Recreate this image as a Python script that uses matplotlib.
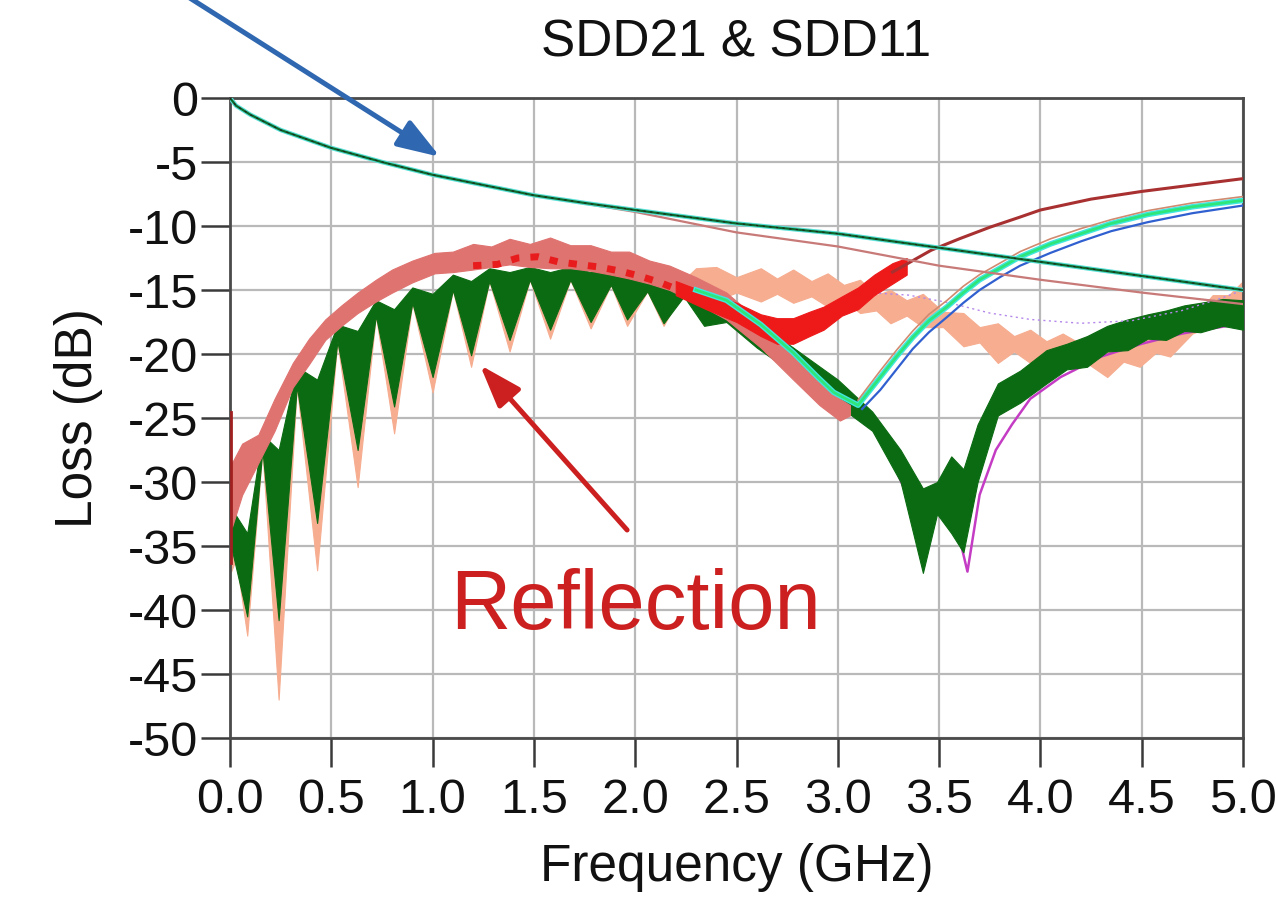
import matplotlib
matplotlib.use("Agg")
import matplotlib.pyplot as plt
import numpy as np

plt.rcParams['font.family'] = ['Liberation Sans', 'DejaVu Sans']

# ---------------- SDD21 (insertion loss) ----------------
il_freq = [0.0, 0.03, 0.1, 0.25, 0.5, 0.75, 1.0, 1.25, 1.5, 1.75, 2.0, 2.5, 3.0, 3.5, 4.0, 4.5, 5.0]
il_main = [0.0, -0.6, -1.3, -2.5, -3.9, -5.0, -6.0, -6.8, -7.6, -8.2, -8.75, -9.8, -10.6, -11.7, -12.8, -13.9, -15.0]
il_alt = [0.0, -0.6, -1.3, -2.5, -3.9, -5.0, -6.0, -6.8, -7.6, -8.25, -8.9, -10.5, -11.6, -13.1, -14.2, -15.2, -16.1]

# ---------------- SDD11 (reflection) ----------------
# dark green trace: upper / lower edges of the rippled band
g_freq = [0.005, 0.085, 0.16, 0.24, 0.33, 0.43, 0.53, 0.63, 0.72, 0.81, 0.90, 1.00,
          1.10, 1.19, 1.28, 1.38, 1.48, 1.58, 1.68, 1.78, 1.88, 1.96, 2.06, 2.14,
          2.24, 2.34, 2.45, 2.60, 2.78, 3.00, 3.17, 3.31, 3.42, 3.49, 3.56, 3.62,
          3.69, 3.79, 3.90, 4.03, 4.13, 4.23, 4.33, 4.43, 4.53, 4.62, 4.71, 4.79,
          4.90, 5.00]
g_upper = [-32.0, -34.0, -26.3, -27.5, -21.0, -22.0, -17.7, -18.2, -15.8, -16.5, -14.8, -15.3,
           -13.8, -14.3, -13.3, -13.6, -13.2, -13.6, -13.2, -13.6, -13.6, -14.0, -14.3, -14.8,
           -14.8, -15.5, -16.0, -17.5, -19.5, -22.0, -24.5, -27.5, -30.5, -30.0, -28.0, -29.0,
           -25.5, -22.3, -21.3, -19.7, -19.2, -18.6, -17.8, -17.3, -16.9, -16.6, -16.2, -16.0,
           -15.7, -15.8]
g_lower = [-35.0, -40.5, -27.5, -40.8, -22.5, -33.2, -19.0, -27.5, -17.0, -24.1, -16.0, -21.8,
           -15.0, -20.1, -14.3, -18.9, -14.2, -18.1, -14.2, -17.5, -14.6, -17.3, -15.1, -17.6,
           -15.5, -17.8, -17.5, -19.5, -21.5, -24.0, -26.0, -30.0, -37.1, -32.5, -34.0, -35.5,
           -30.0, -24.8, -23.8, -22.3, -21.2, -21.0, -19.8, -19.7, -18.8, -18.9, -18.2, -18.3,
           -17.8, -18.1]

# peach trace: deep needles at low frequency, flat rippled band above 2.3 GHz
p_freq = [0.005, 0.03, 0.085, 0.16, 0.24, 0.33, 0.43, 0.53, 0.63, 0.72, 0.81, 0.90, 1.00,
          1.10, 1.19, 1.28, 1.38, 1.48, 1.58, 1.68, 1.78, 1.88, 1.96, 2.06, 2.14, 2.22,
          2.30, 2.40, 2.50, 2.62, 2.70, 2.78, 2.87, 2.95, 3.03, 3.11, 3.19, 3.26, 3.34,
          3.42, 3.52, 3.62, 3.70, 3.79, 3.87, 3.95, 4.03, 4.11, 4.22, 4.33, 4.41, 4.49,
          4.57, 4.64, 4.75, 4.85, 4.93, 5.00]
p_upper = [-33.0, -33.0, -34.5, -27.0, -28.0, -21.5, -22.5, -18.0, -18.5, -16.0, -16.8, -15.0, -15.5,
           -14.0, -14.5, -13.5, -14.0, -13.5, -14.0, -13.5, -14.0, -14.0, -14.5, -14.5, -14.8, -14.5,
           -13.3, -13.2, -14.0, -13.3, -14.1, -13.4, -14.3, -13.7, -14.6, -14.2, -15.4, -15.0, -15.8,
           -15.3, -16.7, -16.8, -17.9, -17.6, -18.6, -18.1, -19.0, -18.4, -19.4, -18.9, -19.4, -18.4,
           -18.7, -17.6, -17.2, -15.4, -15.4, -14.3]
p_lower = [-37.0, -36.0, -42.0, -27.5, -47.0, -22.5, -36.9, -19.0, -30.4, -17.0, -26.2, -16.0, -23.0,
           -15.0, -21.0, -14.3, -19.8, -14.2, -18.8, -14.2, -18.0, -14.6, -17.8, -15.1, -17.8, -15.5,
           -15.3, -15.8, -15.2, -15.9, -15.3, -16.0, -15.5, -16.3, -15.8, -16.8, -16.6, -17.6, -17.0,
           -17.9, -17.9, -19.4, -19.1, -20.7, -19.8, -20.7, -20.2, -21.0, -20.6, -21.8, -20.6, -21.0,
           -19.9, -20.2, -18.4, -17.8, -16.6, -16.7]

# pink trace: upper rippled band, dipping to a null near 3.05 GHz
k_freq = [0.01, 0.06, 0.14, 0.22, 0.31, 0.39, 0.47, 0.55, 0.63, 0.72, 0.80, 0.90, 1.01,
          1.10, 1.20, 1.29, 1.38, 1.48, 1.58, 1.68, 1.78, 1.88, 1.97, 2.07, 2.17, 2.30,
          2.45, 2.62, 2.78, 2.91, 3.01, 3.06]
k_upper = [-28.5, -27.0, -26.3, -23.5, -20.7, -18.8, -17.3, -16.2, -15.2, -14.2, -13.4, -12.7, -12.1,
           -12.0, -11.4, -11.6, -11.0, -11.4, -10.9, -11.5, -11.5, -12.0, -12.0, -12.7, -13.1, -14.0,
           -15.2, -17.5, -19.8, -21.8, -23.5, -24.0]
k_lower = [-33.5, -31.0, -28.5, -26.0, -22.6, -20.8, -18.9, -17.8, -16.8, -15.9, -15.2, -14.4, -13.7,
           -13.6, -13.4, -13.2, -13.0, -13.2, -13.3, -13.3, -13.5, -13.8, -14.1, -14.5, -15.0, -16.0,
           -17.3, -19.5, -22.0, -24.0, -25.2, -24.8]

# red trace: blotches inside the pink band, then its own band with a null near 2.8 GHz
rd_freq = [1.20, 1.32, 1.42, 1.52, 1.62, 1.72, 1.82, 1.92, 2.02, 2.12, 2.20]
rd_db = [-13.1, -13.0, -12.5, -12.4, -12.8, -13.0, -13.2, -13.5, -13.9, -14.4, -14.9]
r_freq = [2.20, 2.35, 2.50, 2.62, 2.70, 2.78, 2.86, 2.93, 3.02, 3.10, 3.18, 3.27, 3.34]
r_upper = [-14.3, -15.2, -16.0, -16.9, -17.2, -17.2, -16.7, -16.3, -15.5, -14.8, -13.8, -12.9, -12.5]
r_lower = [-15.4, -16.5, -17.5, -18.6, -19.2, -19.2, -18.6, -18.1, -17.0, -16.5, -15.4, -14.5, -13.8]
# thin dark red continuation of the red trace
dr_freq = [3.27, 3.46, 3.60, 3.75, 3.90, 4.00, 4.25, 4.50, 4.75, 5.00]
dr_db = [-13.6, -11.9, -11.0, -10.1, -9.3, -8.75, -7.9, -7.3, -6.8, -6.3]
start_freq = [0.004, 0.004]
start_db = [-24.5, -36.3]

# light green / cyan / blue cluster: null at 3.1 GHz then rising
c_freq = [2.30, 2.45, 2.62, 2.78, 2.90, 2.98, 3.10, 3.21, 3.29, 3.37, 3.45, 3.54, 3.62,
          3.70, 3.80, 3.90, 4.05, 4.20, 4.35, 4.53, 4.75, 5.00]
c_db = [-15.0, -15.8, -17.7, -19.9, -21.8, -23.0, -24.0, -21.8, -20.2, -18.7, -17.4, -16.3, -15.2,
        -14.2, -13.3, -12.4, -11.4, -10.6, -9.8, -9.1, -8.5, -8.0]
b_freq = [3.12, 3.21, 3.29, 3.37, 3.45, 3.54, 3.62, 3.70, 3.80, 3.90, 4.05, 4.20, 4.35,
          4.53, 4.75, 5.00]
b_db = [-24.3, -22.8, -21.2, -19.6, -18.3, -17.1, -16.0, -15.0, -14.0, -13.1, -12.1, -11.2, -10.4,
        -9.7, -9.0, -8.4]
s_freq = [3.10, 3.21, 3.29, 3.37, 3.45, 3.54, 3.62, 3.70, 3.80, 3.90, 4.05, 4.20, 4.35,
          4.53, 4.75, 5.00]
s_db = [-23.6, -21.3, -19.7, -18.2, -16.9, -15.8, -14.7, -13.8, -12.9, -12.0, -11.0, -10.2, -9.5,
        -8.8, -8.2, -7.7]

# magenta trace hugging the dark green one, lavender trace above the peach one
m_freq = [3.30, 3.42, 3.50, 3.58, 3.64, 3.70, 3.78, 3.86, 3.95, 4.10, 4.30, 4.50, 4.70, 4.85, 5.00]
m_db = [-29.5, -34.0, -31.5, -33.0, -37.0, -31.0, -27.5, -25.5, -23.5, -21.8, -20.2, -19.2, -18.4,
        -18.0, -17.6]
v_freq = [3.15, 3.35, 3.55, 3.75, 3.95, 4.20, 4.45, 4.70, 4.90, 5.00]
v_db = [-15.2, -15.4, -16.0, -16.8, -17.3, -17.6, -17.4, -16.6, -15.6, -15.0]

x_ticks = [0.0, 0.5, 1.0, 1.5, 2.0, 2.5, 3.0, 3.5, 4.0, 4.5, 5.0]
y_ticks = [0, -5, -10, -15, -20, -25, -30, -35, -40, -45, -50]

# ---------------- figure ----------------
W, H = 1276, 916
fig = plt.figure(figsize=(W / 100, H / 100), dpi=100)
ax = fig.add_axes([230 / W, 1 - 738 / H, (1243 - 230) / W, (738 - 98) / H])

ax.set_xlim(0, 5)
ax.set_ylim(-50, 0)

# reflection traces
ax.plot(m_freq, m_db, color='#c43cc4', lw=1.8, zorder=2.5)
ax.fill_between(p_freq, p_upper, p_lower, color='#f6ad90', lw=0.8, edgecolor='#f6ad90', zorder=2)
ax.fill_between(g_freq, g_upper, g_lower, color='#0b6b12', lw=0.8, edgecolor='#0b6b12', zorder=3)
ax.plot(v_freq, v_db, color='#b488ea', lw=1.0, ls=(0, (1.5, 2.5)), zorder=3.2)
ax.fill_between(k_freq, k_upper, k_lower, color='#df7370', lw=0.8, edgecolor='#df7370', zorder=4)
ax.plot(rd_freq, rd_db, color='#e81c1c', lw=5.0, ls=(0, (1.2, 1.6)), zorder=4.5)
ax.fill_between(r_freq, r_upper, r_lower, color='#ee1a1a', lw=0.8, edgecolor='#ee1a1a', zorder=5)
ax.plot(dr_freq, dr_db, color='#a83030', lw=2.2, zorder=5)
ax.plot(start_freq, start_db, color='#a02020', lw=2.0, zorder=5)
ax.plot(c_freq, c_db, color='#40e6e0', lw=4.0, zorder=5.5)
ax.plot(c_freq, c_db, color='#2ee67a', lw=2.0, zorder=5.6)
ax.plot(b_freq, b_db, color='#3060d0', lw=1.6, zorder=5.7)
ax.plot(s_freq, s_db, color='#d08a70', lw=1.2, zorder=5.7)

# insertion loss traces
ax.plot(il_freq, il_alt, color='#c87a78', lw=1.6, zorder=6)
ax.plot(il_freq, il_main, color='#58e0d8', lw=3.2, zorder=6.1)
ax.plot(il_freq, il_main, color='#0e6a2a', lw=1.6, zorder=6.2)
ax.plot(il_freq, il_main, color='#222222', lw=0.8, ls=(0, (2, 4)), zorder=6.3)

# grid / frame
ax.set_xticks(x_ticks)
ax.set_yticks(y_ticks)
ax.set_xticklabels([f'{t:.1f}' for t in x_ticks])
ax.set_yticklabels([str(t) for t in y_ticks])
ax.grid(True, color='#b9b9b9', lw=1.6, zorder=1)
ax.set_axisbelow(True)
for side in ['left', 'bottom', 'top', 'right']:
    ax.spines[side].set_color('#4a4a4a')
    ax.spines[side].set_linewidth(2.0)
ax.tick_params(axis='both', direction='out', length=21, width=1.8, color='#3a3a3a',
               labelsize=35, labelcolor='#111111')
ax.tick_params(axis='y', pad=2)
ax.tick_params(axis='x', pad=8)

ax.set_title('SDD21 & SDD11', fontsize=37, pad=30, color='#111111')
ax.set_xlabel('Frequency (GHz)', fontsize=37, labelpad=14, color='#111111')
ax.set_ylabel('Loss (dB)', fontsize=37, labelpad=18, color='#111111')

# annotations
ax.annotate('', xy=(1.037, -4.6), xytext=(-0.222, 8.05), xycoords='data',
            annotation_clip=False,
            arrowprops=dict(arrowstyle='-|>,head_length=1.3,head_width=0.45',
                            mutation_scale=20, lw=3.6, color='#2f67b0',
                            shrinkA=0, shrinkB=0))
ax.annotate('', xy=(1.234, -20.86), xytext=(1.96, -33.75), xycoords='data',
            annotation_clip=False,
            arrowprops=dict(arrowstyle='-|>,head_length=1.3,head_width=0.45',
                            mutation_scale=20, lw=3.6, color='#cc2020',
                            shrinkA=0, shrinkB=0))
ax.text(2.0, -39.8, 'Reflection', fontsize=60, color='#cc2020', ha='center', va='center',
        zorder=8)

fig.savefig('out.png', dpi=100)
